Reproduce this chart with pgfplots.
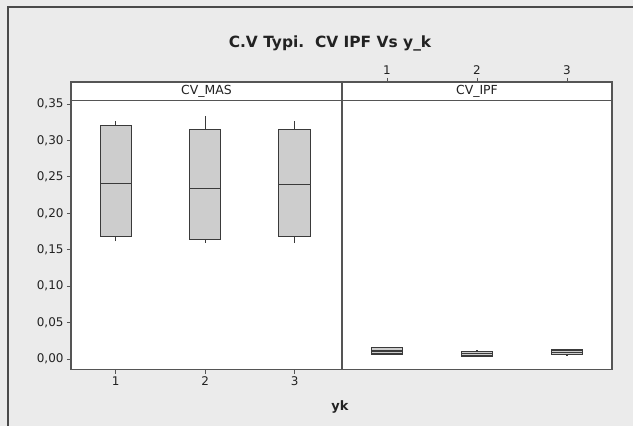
\documentclass[border=0pt]{standalone}
\usepackage{fontspec}
\setmainfont{DejaVu Sans}
\usepackage{pgfplots}
\pgfplotsset{compat=1.18}
\usepgfplotslibrary{statistics}
\definecolor{bggray}{HTML}{EBEBEB}
\definecolor{framegray}{HTML}{4A4A4A}
\definecolor{axgray}{HTML}{555555}
\definecolor{boxfill}{HTML}{CDCDCD}
\definecolor{boxedge}{HTML}{3A3A3A}
\definecolor{txt}{HTML}{222222}
\begin{document}
\begin{tikzpicture}
\useasboundingbox (0bp,0bp) rectangle (633bp,-426bp);
\fill[bggray] (0bp,0bp) rectangle (633bp,-426bp);
\draw[framegray, line width=1.4bp] (8bp,-426bp) -- (8bp,-7bp) -- (633bp,-7bp);
\node[font=\fontsize{15.5}{17}\selectfont\bfseries, text=txt] at (330bp,-43bp) {C.V Typi.\ \ CV IPF Vs y\_k};
\node[font=\fontsize{13}{15}\selectfont\bfseries, text=txt] at (340bp,-407bp) {yk};
\pgfplotsset{
  panel/.style={
    scale only axis, height=287.5bp,
    ymin=-0.0144, ymax=0.3802,
    axis background/.style={fill=white},
    axis line style={axgray, line width=1.1bp},
    every tick/.style={axgray, line width=0.8bp},
    major tick length=4bp,
    tick align=outside,
    xtick={1,2,3},
    tick label style={font=\fontsize{12}{14}\selectfont, text=txt},
    /pgf/number format/assume math mode=true,
    clip=false,
    boxplot/draw direction=y,
    boxplot/box extend=0.35,
    boxplot/whisker extend=0,
  },
  bx/.style={draw=boxedge, fill=boxfill, line width=1.1bp, solid, mark=none},
}
\begin{axis}[panel, at={(71bp,-369.5bp)}, anchor=south west, width=271bp,
  xmin=0.5, xmax=3.53,
  xtick pos=bottom, ytick pos=left,
  ytick={0,0.05,0.10,0.15,0.20,0.25,0.30,0.35},
  yticklabel style={/pgf/number format/.cd, fixed, fixed zerofill, precision=2, use comma},
  ]
\addplot[bx, boxplot prepared={draw position=1, lower whisker=0.1616, lower quartile=0.1676, median=0.2415, upper quartile=0.3204, upper whisker=0.3262}] coordinates {};
\addplot[bx, boxplot prepared={draw position=2, lower whisker=0.1598, lower quartile=0.1644, median=0.2343, upper quartile=0.3149, upper whisker=0.3338}] coordinates {};
\addplot[bx, boxplot prepared={draw position=3, lower whisker=0.1589, lower quartile=0.1676, median=0.2399, upper quartile=0.3150, upper whisker=0.3264}] coordinates {};
\draw[axgray, line width=1.1bp] (axis description cs:0,0.9357) -- (axis description cs:1,0.9357);
\node[font=\fontsize{12.5}{14}\selectfont, text=txt] at (axis description cs:0.5,0.968) {CV\_MAS};
\end{axis}
\begin{axis}[panel, at={(342bp,-369.5bp)}, anchor=south west, width=270bp,
  xmin=0.5, xmax=3.5,
  xtick pos=top, xticklabel pos=top,
  ytick=\empty,
  ]
\addplot[bx, boxplot prepared={draw position=1, lower whisker=0.0060, lower quartile=0.0069, median=0.0110, upper quartile=0.0155, upper whisker=0.0165}] coordinates {};
\addplot[bx, boxplot prepared={draw position=2, lower whisker=0.0030, lower quartile=0.0041, median=0.0073, upper quartile=0.0106, upper whisker=0.0120}] coordinates {};
\addplot[bx, boxplot prepared={draw position=3, lower whisker=0.0040, lower quartile=0.0059, median=0.0092, upper quartile=0.0124, upper whisker=0.0140}] coordinates {};
\draw[axgray, line width=1.1bp] (axis description cs:0,0.9357) -- (axis description cs:1,0.9357);
\node[font=\fontsize{12.5}{14}\selectfont, text=txt] at (axis description cs:0.5,0.968) {CV\_IPF};
\end{axis}
\end{tikzpicture}
\end{document}
